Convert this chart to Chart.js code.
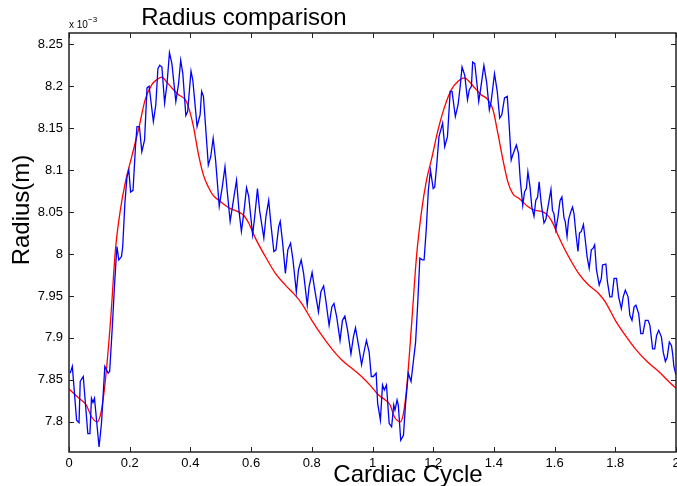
<!DOCTYPE html>
<html>
<head>
<meta charset="utf-8">
<title>Radius comparison</title>
<script src="https://cdn.jsdelivr.net/npm/chart.js@4.4.0/dist/chart.umd.min.js"></script>
<style>
  body { margin: 0; background: #fff; }
  canvas { display: block; }
</style>
</head>
<body>
<canvas id="radius-chart" width="677" height="486"></canvas>
<script>
// x axis = cardiac cycle, y values in units of 1e-3 m
var blueX = [0.004,0.011,0.025,0.033,0.037,0.047,0.062,0.069,0.074,0.079,0.084,0.099,0.107,0.118,0.129,0.134,0.142,0.151,0.158,0.164,
  0.173,0.177,0.184,0.191,0.197,0.203,0.211,0.219,0.224,0.232,0.240,0.249,0.257,0.264,0.278,0.286,0.293,0.299,0.306,0.315,
  0.323,0.331,0.339,0.352,0.361,0.368,0.375,0.385,0.391,0.402,0.408,0.422,0.432,0.437,0.443,0.459,0.467,0.475,0.483,0.495,
  0.505,0.514,0.521,0.531,0.540,0.552,0.560,0.568,0.576,0.585,0.592,0.605,0.612,0.621,0.628,0.642,0.649,0.658,0.666,0.675,
  0.682,0.691,0.696,0.704,0.713,0.721,0.730,0.738,0.749,0.756,0.765,0.773,0.785,0.791,0.801,0.809,0.822,0.830,0.839,0.846,
  0.857,0.866,0.873,0.882,0.893,0.901,0.909,0.918,0.929,0.937,0.944,0.955,0.964,0.973,0.980,0.989,0.996,1.003,1.012,1.017,
  1.026,1.033,1.039,1.046,1.055,1.063,1.070,1.074,1.081,1.085,1.093,1.102,1.109,1.118,1.127,1.134,1.142,1.149,1.156,1.164,
  1.170,1.177,1.184,1.191,1.200,1.205,1.212,1.219,1.225,1.231,1.238,1.247,1.256,1.262,1.273,1.282,1.289,1.295,1.304,1.313,
  1.319,1.326,1.330,1.337,1.345,1.350,1.356,1.367,1.376,1.385,1.391,1.402,1.411,1.419,1.426,1.435,1.444,1.450,1.457,1.462,
  1.466,1.474,1.481,1.487,1.495,1.501,1.507,1.512,1.519,1.525,1.532,1.538,1.544,1.549,1.556,1.565,1.571,1.580,1.588,1.593,
  1.598,1.604,1.611,1.618,1.624,1.631,1.635,1.641,1.646,1.653,1.659,1.664,1.670,1.677,1.682,1.688,1.695,1.701,1.707,1.714,
  1.721,1.727,1.732,1.738,1.747,1.754,1.758,1.769,1.774,1.782,1.789,1.796,1.804,1.811,1.820,1.826,1.833,1.842,1.848,1.855,
  1.862,1.868,1.877,1.884,1.891,1.899,1.908,1.914,1.923,1.930,1.936,1.943,1.952,1.958,1.965,1.971,1.978,1.985,1.989,1.993,2.000];
var blueY = [7.858,7.866,7.802,7.799,7.848,7.854,7.786,7.786,7.828,7.823,7.828,7.770,7.798,7.866,7.858,7.860,7.909,7.969,8.009,7.993,
  7.997,8.009,8.060,8.092,8.100,8.074,8.076,8.128,8.152,8.152,8.122,8.136,8.198,8.200,8.158,8.178,8.221,8.225,8.223,8.180,
  8.203,8.240,8.227,8.182,8.203,8.231,8.215,8.165,8.170,8.218,8.207,8.152,8.166,8.194,8.188,8.106,8.116,8.138,8.112,8.057,
  8.080,8.104,8.076,8.039,8.060,8.088,8.052,8.027,8.049,8.079,8.069,8.023,8.045,8.078,8.052,8.019,8.045,8.064,8.033,8.003,
  8.005,8.033,8.039,8.013,7.977,8.005,8.013,7.993,7.955,7.981,7.993,7.977,7.939,7.961,7.978,7.959,7.931,7.955,7.962,7.945,
  7.915,7.937,7.941,7.925,7.897,7.921,7.926,7.909,7.881,7.901,7.912,7.889,7.868,7.885,7.897,7.883,7.854,7.854,7.858,7.822,
  7.802,7.844,7.838,7.844,7.798,7.794,7.820,7.814,7.826,7.820,7.778,7.784,7.822,7.858,7.848,7.870,7.895,7.941,7.995,7.993,
  7.993,8.029,8.076,8.100,8.078,8.080,8.108,8.140,8.148,8.156,8.128,8.140,8.194,8.194,8.164,8.178,8.200,8.223,8.213,8.184,
  8.196,8.200,8.229,8.227,8.200,8.182,8.196,8.225,8.205,8.172,8.182,8.215,8.194,8.162,8.166,8.186,8.188,8.156,8.112,8.118,
  8.122,8.130,8.120,8.088,8.058,8.074,8.078,8.098,8.080,8.056,8.045,8.064,8.068,8.086,8.060,8.037,8.041,8.060,8.077,8.052,
  8.048,8.029,8.044,8.064,8.068,8.043,8.039,8.021,8.041,8.050,8.056,8.048,8.025,8.003,8.025,8.027,8.035,8.017,7.997,7.983,
  8.005,8.007,8.011,7.981,7.963,7.971,7.987,7.988,7.967,7.949,7.949,7.971,7.971,7.949,7.935,7.949,7.957,7.949,7.927,7.921,
  7.937,7.939,7.929,7.905,7.905,7.921,7.921,7.915,7.887,7.887,7.903,7.909,7.901,7.883,7.872,7.877,7.895,7.891,7.881,7.866,7.856];

var redX = [0.000,0.033,0.057,0.074,0.093,0.107,0.120,0.137,0.153,0.169,0.186,0.208,0.230,0.251,0.273,0.290,0.306,0.322,0.339,0.361,
  0.383,0.393,0.410,0.426,0.443,0.459,0.475,0.494,0.527,0.560,0.576,0.592,0.614,0.647,0.680,0.713,0.745,0.767,0.800,0.833,
  0.866,0.898,0.931,0.964,0.991,1.020,1.042,1.058,1.072,1.092,1.102,1.113,1.129,1.145,1.162,1.178,1.195,1.216,1.238,1.260,
  1.282,1.304,1.320,1.337,1.358,1.380,1.397,1.413,1.430,1.446,1.462,1.484,1.514,1.536,1.558,1.575,1.591,1.613,1.646,1.679,
  1.712,1.745,1.767,1.800,1.833,1.866,1.910,1.943,1.976,2.000];
var redY = [7.839,7.828,7.820,7.806,7.800,7.814,7.850,7.921,8.005,8.052,8.086,8.118,8.150,8.184,8.202,8.208,8.211,8.205,8.198,8.190,
  8.184,8.176,8.152,8.120,8.094,8.080,8.070,8.064,8.055,8.050,8.046,8.037,8.019,7.997,7.977,7.963,7.951,7.941,7.921,7.903,
  7.887,7.874,7.864,7.854,7.844,7.832,7.826,7.820,7.806,7.800,7.810,7.842,7.917,7.997,8.052,8.088,8.114,8.148,8.176,8.196,
  8.206,8.210,8.205,8.198,8.190,8.184,8.172,8.144,8.112,8.086,8.072,8.066,8.056,8.052,8.051,8.047,8.039,8.021,7.997,7.977,
  7.963,7.953,7.943,7.921,7.903,7.887,7.870,7.860,7.848,7.840];

var xTicks = [0, 0.2, 0.4, 0.6, 0.8, 1, 1.2, 1.4, 1.6, 1.8, 2];
var xTickLabels = ['0', '0.2', '0.4', '0.6', '0.8', '1', '1.2', '1.4', '1.6', '1.8', '2'];
var yTicks = [7.8, 7.85, 7.9, 7.95, 8, 8.05, 8.1, 8.15, 8.2, 8.25];
var yTickLabels = ['7.8', '7.85', '7.9', '7.95', '8', '8.05', '8.1', '8.15', '8.2', '8.25'];

var fontFamily = '"Liberation Sans", Arial, Helvetica, sans-serif';

function toPoints(xs, ys) {
  var pts = [];
  for (var i = 0; i < xs.length; i++) pts.push({ x: xs[i], y: ys[i] });
  return pts;
}

// matlab style box axes, inward ticks and labels
var matlabAxes = {
  id: 'matlabAxes',
  afterDraw: function (chart) {
    var ctx = chart.ctx;
    var a = chart.chartArea;
    var xs = chart.scales.x, ys = chart.scales.y;
    var tick = 5;
    ctx.save();
    ctx.strokeStyle = '#222';
    ctx.lineWidth = 1.5;
    ctx.strokeRect(a.left, a.top, a.right - a.left, a.bottom - a.top);

    ctx.lineWidth = 1;
    ctx.beginPath();
    xTicks.forEach(function (v) {
      var px = Math.round(xs.getPixelForValue(v)) + 0.5;
      ctx.moveTo(px, a.bottom); ctx.lineTo(px, a.bottom - tick);
      ctx.moveTo(px, a.top); ctx.lineTo(px, a.top + tick);
    });
    yTicks.forEach(function (v) {
      var py = Math.round(ys.getPixelForValue(v)) + 0.5;
      ctx.moveTo(a.left, py); ctx.lineTo(a.left + tick, py);
      ctx.moveTo(a.right, py); ctx.lineTo(a.right - tick, py);
    });
    ctx.stroke();

    ctx.fillStyle = '#000';
    ctx.font = '13px ' + fontFamily;
    ctx.textAlign = 'center';
    ctx.textBaseline = 'middle';
    xTicks.forEach(function (v, i) {
      ctx.fillText(xTickLabels[i], xs.getPixelForValue(v), 463);
    });
    ctx.textAlign = 'right';
    yTicks.forEach(function (v, i) {
      ctx.fillText(yTickLabels[i], a.left - 6, ys.getPixelForValue(v));
    });

    // exponent note
    ctx.textAlign = 'left';
    ctx.textBaseline = 'alphabetic';
    ctx.font = '10px ' + fontFamily;
    ctx.fillText('x 10', 69, 28);
    ctx.font = '8px ' + fontFamily;
    ctx.fillText('\u22123', 88, 22);

    // title and axis labels
    ctx.font = '24px ' + fontFamily;
    ctx.textAlign = 'center';
    ctx.fillText('Radius comparison', 244, 25);
    ctx.fillText('Cardiac Cycle', 408, 482);
    ctx.translate(22, 210);
    ctx.rotate(-Math.PI / 2);
    ctx.textBaseline = 'middle';
    ctx.fillText('Radius(m)', 0, 0);
    ctx.restore();
  }
};

var ctx = document.getElementById('radius-chart');
var radiusChart = new Chart(ctx, {
  type: 'line',
  data: {
    datasets: [{
      label: 'measured',
      data: toPoints(blueX, blueY),
      borderColor: '#0000ff',
      borderWidth: 1.3,
      pointRadius: 0,
      tension: 0
    }, {
      label: 'model',
      data: toPoints(redX, redY),
      borderColor: '#ff0000',
      borderWidth: 1.3,
      pointRadius: 0,
      cubicInterpolationMode: 'monotone'
    }]
  },
  options: {
    responsive: false,
    devicePixelRatio: 1,
    animation: false,
    layout: { padding: { left: 69, right: 1, top: 33, bottom: 34 } },
    plugins: { legend: { display: false }, tooltip: { enabled: false } },
    scales: {
      x: { type: 'linear', min: 0, max: 2, display: false },
      y: { type: 'linear', min: 7.764, max: 8.2635, display: false }
    }
  },
  plugins: [matlabAxes]
});
</script>
</body>
</html>
